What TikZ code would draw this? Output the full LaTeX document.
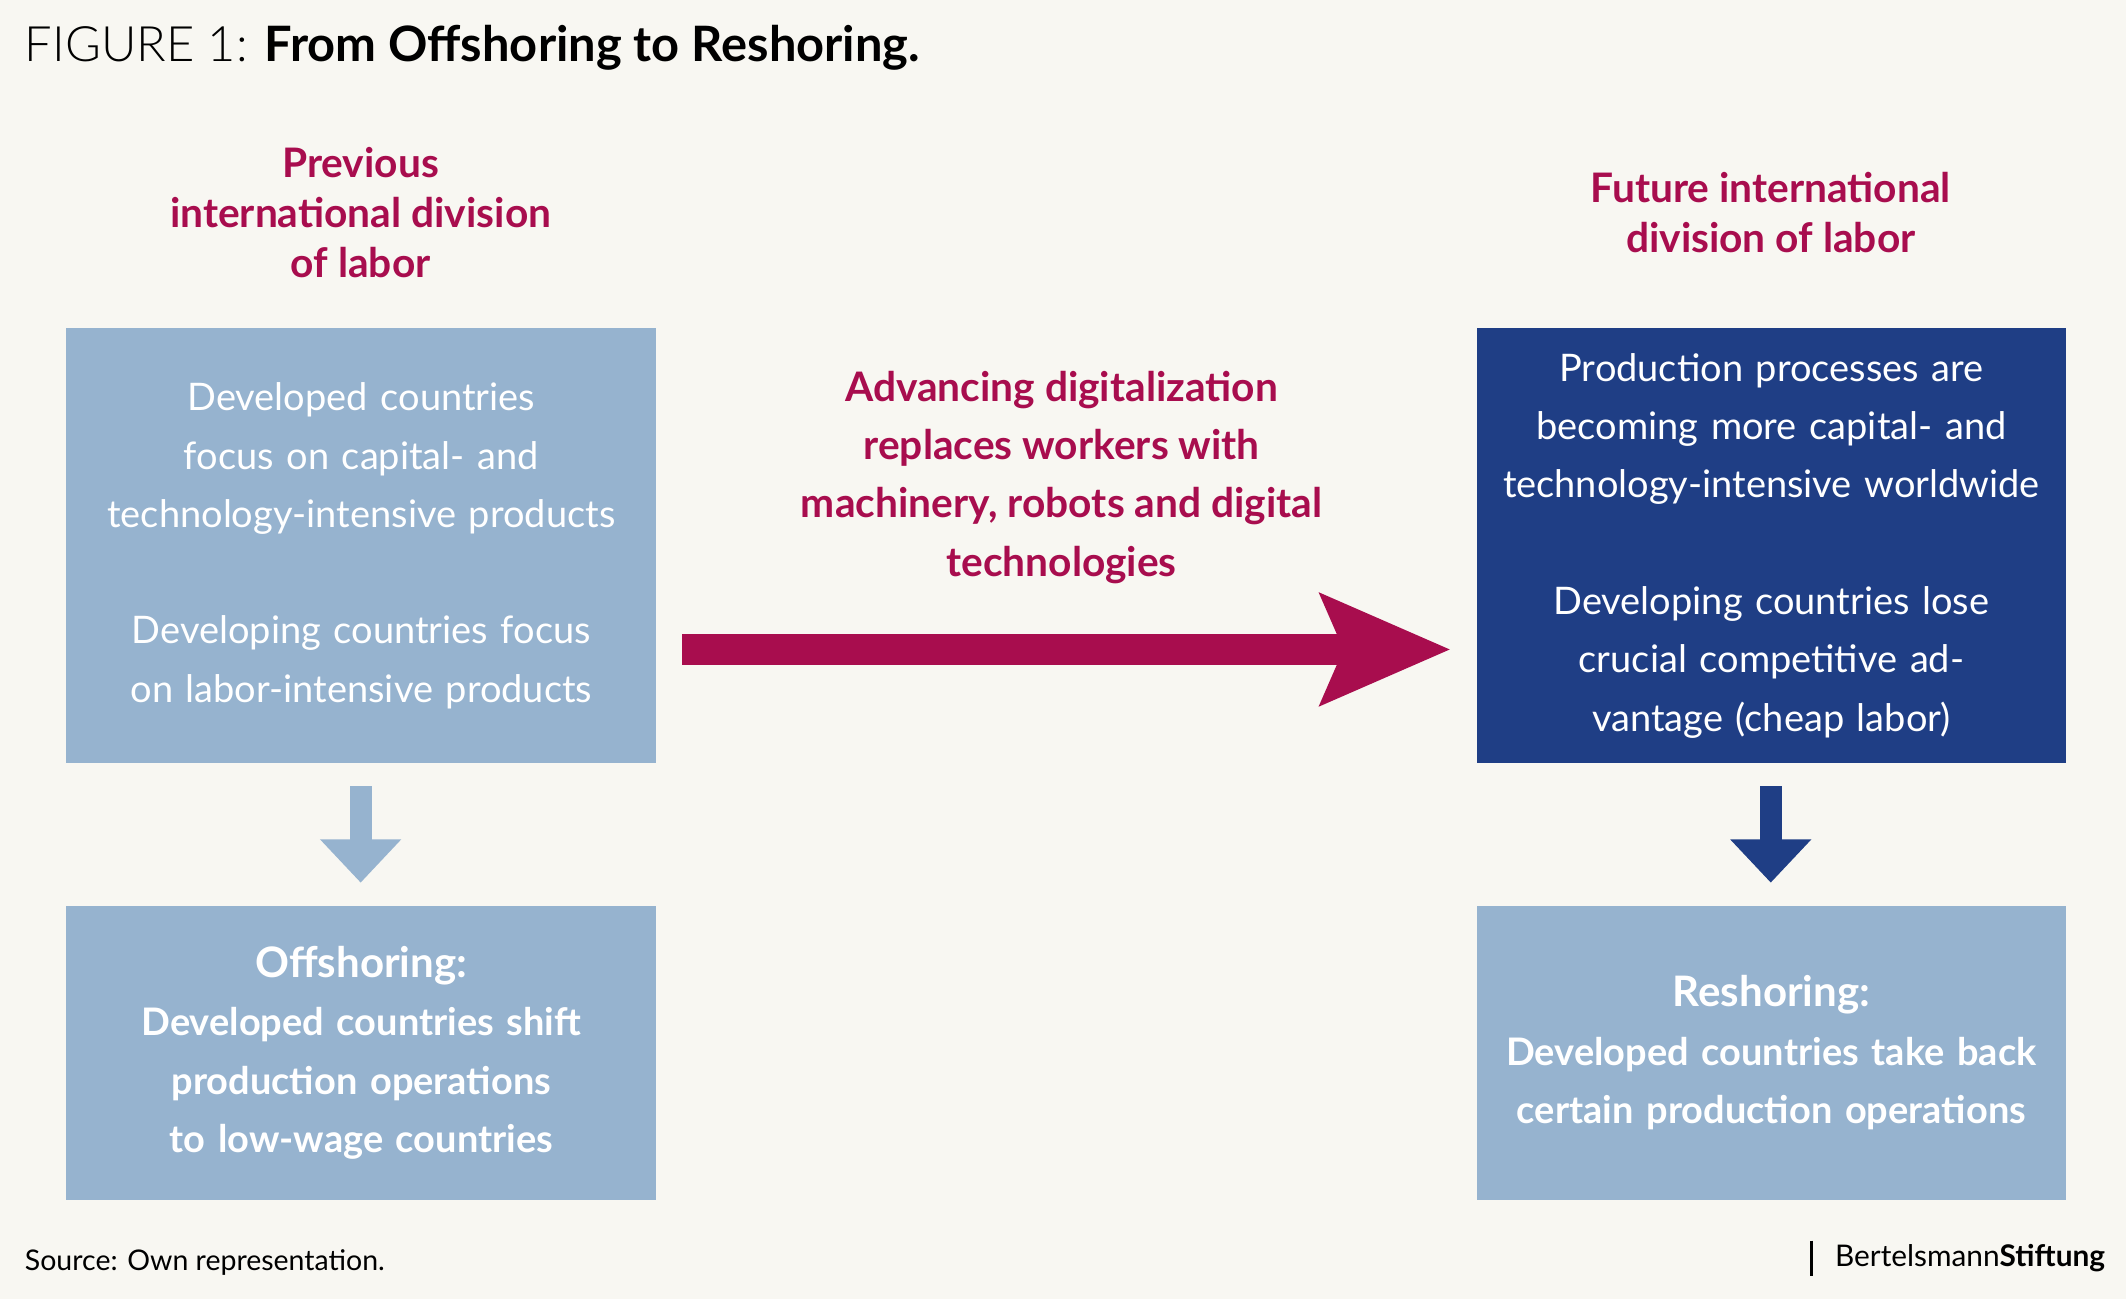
\documentclass[tikz,border=0pt]{standalone}
\usepackage{fontspec}
\setmainfont{Lato}
\usetikzlibrary{arrows.meta}
\definecolor{bg}{HTML}{F8F7F2}
\definecolor{crim}{HTML}{A80D4E}
\definecolor{lblue}{HTML}{96B3CF}
\definecolor{dblue}{HTML}{1F3E85}
\begin{document}
\begin{tikzpicture}[x=0.5pt,y=-0.5pt,
  box/.style={minimum width=217.5pt,text width=210pt,align=center,inner sep=0pt,text=white},
  body/.style={font=\fontsize{14}{21.5}\selectfont},
  head/.style={font=\fontsize{15}{18.5}\selectfont\bfseries,text=crim,align=center}]
\fill[bg] (0,0) rectangle (1568,958);
\useasboundingbox (0,0) rectangle (1568,958);
\node[anchor=west,inner sep=0pt] (title) at (18,35) {\fontsize{18}{20}\selectfont{\addfontfeature{}\fontspec{Lato Light}FIGURE 1:} \bfseries From Offshoring to Reshoring.};
\node[head] (lh) at (266,157) {Previous\\international division\\of labor};
\node[head] (rh) at (1306,157) {Future international\\division of labor};
\node[box,fill=lblue,minimum height=160.5pt,body] (lb) at (266.5,402.5) {Developed countries focus on capital- and technology-intensive products\\[21.5pt]Developing countries focus on labor-intensive products};
\node[box,fill=dblue,minimum height=160.5pt,body] (rb) at (1306.5,402.5) {Production processes are becoming more capital- and technology-intensive worldwide\\[21.5pt]Developing countries lose crucial competitive advantage (cheap labor)};
\node[box,fill=lblue,minimum height=108.5pt,font=\fontsize{14}{21.5}\selectfont\bfseries] (lo) at (266.5,776.5) {{\fontsize{15.5}{21.5}\selectfont Offshoring:}\\Developed countries shift production operations to low-wage countries};
\node[box,fill=lblue,minimum height=108.5pt,font=\fontsize{14}{21.5}\selectfont\bfseries] (ro) at (1306.5,776.5) {{\fontsize{15.5}{21.5}\selectfont Reshoring:}\\Developed countries take back certain production operations};
\node[head,font=\fontsize{15}{21.5}\selectfont\bfseries] (mid) at (783,352) {Advancing digitalization\\replaces workers with\\machinery, robots and digital\\technologies};
\coordinate (a1) at (503,479); \coordinate (a2) at (1070,479);
\draw[crim,line width=11.5pt,-{Triangle[length=47.5pt,width=40pt,inset=8pt]}] (a1) -- (a2);
\coordinate (d1) at (266,580); \coordinate (d2) at (266,651);
\draw[lblue,line width=8pt,-{Triangle[length=16pt,width=29pt]}] (d1) -- (d2);
\coordinate (e1) at (1306,580); \coordinate (e2) at (1306,651);
\draw[dblue,line width=8pt,-{Triangle[length=16pt,width=29pt]}] (e1) -- (e2);
\node[anchor=west,inner sep=0pt,font=\fontsize{10.5}{12}\selectfont] (src) at (18,931) {Source: Own representation.};
\node[anchor=east,inner sep=0pt,font=\fontsize{11}{12}\selectfont] (logo) at (1553,928) {Bertelsmann\textbf{Stiftung}};
\draw[line width=1pt] (1336,915) -- (1336,941);
\end{tikzpicture}
\end{document}
